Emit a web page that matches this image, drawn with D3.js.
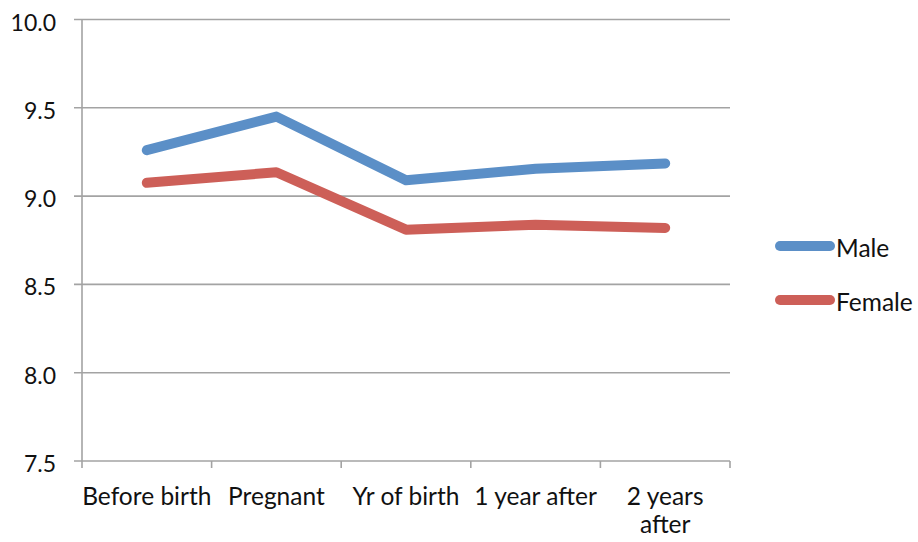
<!DOCTYPE html>
<html>
<head>
<meta charset="utf-8">
<script src="https://cdn.jsdelivr.net/npm/d3@7"></script>
<style>
  html, body { margin: 0; padding: 0; background: #fff; }
  svg text { font-family: Lato, "Open Sans", sans-serif; fill: #111; }
</style>
</head>
<body>
<svg id="chart" width="918" height="542"></svg>
<script>
// Periods along the horizontal axis (label lines split for wrapping)
const categories = ["Before birth", "Pregnant", "Yr of birth", "1 year after", "2 years after"];
const categoryLines = [["Before birth"], ["Pregnant"], ["Yr of birth"], ["1 year after"], ["2 years", "after"]];
const maleValues = [9.26, 9.45, 9.09, 9.155, 9.185];
const femaleValues = [9.075, 9.135, 8.81, 8.838, 8.82];
const yTicks = [7.5, 8.0, 8.5, 9.0, 9.5, 10.0];

const seriesNames = ["Male", "Female"];
const seriesColors = ["#5B8FC7", "#CD5F58"];
const series = [maleValues, femaleValues];

const svg = d3.select("#chart");
const plot = { left: 82, right: 730, top: 19.5, bottom: 461 };

const x = d3.scaleBand().domain(categories).range([plot.left, plot.right]).padding(0);
const y = d3.scaleLinear().domain([7.5, 10]).range([plot.bottom, plot.top]);

const gridColor = "#a3a3a3";
const labelSize = 24.5;

// Horizontal gridlines
svg.append("g")
  .selectAll("line")
  .data(yTicks)
  .join("line")
  .attr("x1", plot.left - 8)
  .attr("x2", plot.right)
  .attr("y1", d => y(d))
  .attr("y2", d => y(d))
  .attr("stroke", gridColor)
  .attr("stroke-width", 1.6);

// Y axis line and labels
svg.append("line")
  .attr("x1", plot.left).attr("x2", plot.left)
  .attr("y1", plot.top).attr("y2", plot.bottom)
  .attr("stroke", gridColor).attr("stroke-width", 1.6);

svg.append("g")
  .selectAll("text")
  .data(yTicks)
  .join("text")
  .attr("x", 56)
  .attr("y", d => y(d) + 11)
  .attr("text-anchor", "end")
  .attr("font-size", 23)
  .text(d => d.toFixed(1));

// X axis tick marks at band boundaries
const boundaries = categories.map(c => x(c)).concat([x(categories[categories.length - 1]) + x.bandwidth()]);
svg.append("g")
  .selectAll("line")
  .data(boundaries)
  .join("line")
  .attr("x1", d => d).attr("x2", d => d)
  .attr("y1", plot.bottom).attr("y2", plot.bottom + 7)
  .attr("stroke", gridColor).attr("stroke-width", 1.6);

// X axis labels
const xl = svg.append("g")
  .selectAll("text")
  .data(categories)
  .join("text")
  .attr("text-anchor", "middle")
  .attr("font-size", labelSize)
  .attr("x", d => x(d) + x.bandwidth() / 2)
  .attr("y", 505);
xl.each(function(d, i) {
  const t = d3.select(this);
  categoryLines[i].forEach((line, j) => {
    t.append("tspan")
      .attr("x", x(d) + x.bandwidth() / 2)
      .attr("dy", j === 0 ? 0 : 28)
      .text(line);
  });
});

// Series lines
const lineGen = d3.line()
  .x((d, i) => x(categories[i]) + x.bandwidth() / 2)
  .y(d => y(d));

svg.append("g")
  .selectAll("path")
  .data(series)
  .join("path")
  .attr("d", d => lineGen(d))
  .attr("fill", "none")
  .attr("stroke", (d, i) => seriesColors[i])
  .attr("stroke-width", 10)
  .attr("stroke-linecap", "round")
  .attr("stroke-linejoin", "round");

// Legend
const legend = svg.append("g")
  .selectAll("g")
  .data(seriesNames)
  .join("g")
  .attr("transform", (d, i) => `translate(0, ${246 + i * 54})`);
legend.append("line")
  .attr("x1", 780).attr("x2", 830)
  .attr("y1", 0).attr("y2", 0)
  .attr("stroke", (d, i) => seriesColors[i])
  .attr("stroke-width", 10)
  .attr("stroke-linecap", "round");
legend.append("text")
  .attr("x", 836)
  .attr("y", 11)
  .attr("font-size", labelSize)
  .text(d => d);
</script>
</body>
</html>
